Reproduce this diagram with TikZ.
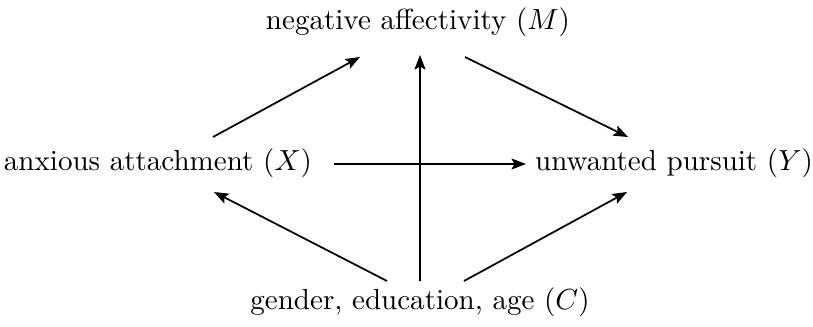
\documentclass[tikz,border=0pt]{standalone}
\usepackage{amsmath,amssymb}
\usetikzlibrary{calc,arrows.meta}
\tikzset{
  var/.style={inner sep=2pt},
  path/.style={draw=black,line width=0.6pt,-{Stealth[length=5pt,width=3.8pt,inset=1pt]}},
}

\begin{document}
\begin{tikzpicture}[x=0.0121cm,y=-0.0121cm]
\useasboundingbox (0,0) rectangle (813,327);
\node[var] (m) at (418,22) {negative affectivity ($M$)};
\node[var] (x) at (158,163) {anxious attachment ($X$)};
\node[var] (y) at (674,163) {unwanted pursuit ($Y$)};
\node[var] (c) at (420,302) {gender, education, age ($C$)};
\draw[path] ($(x)+(55,-26)$) -- ($(m)+(-58,35)$);
\draw[path] ($(m)+(47,35)$) -- ($(y)+(-46,-26)$);
\draw[path] ($(x)+(176,1)$) -- ($(y)+(-148,1)$);
\draw[path] ($(c)+(-33,-21)$) -- ($(x)+(56,29)$);
\draw[path] ($(c)+(44,-21)$) -- ($(y)+(-47,29)$);
\draw[path] ($(c)+(0,-21)$) -- ($(m)+(2,33)$);
\end{tikzpicture}
\end{document}
